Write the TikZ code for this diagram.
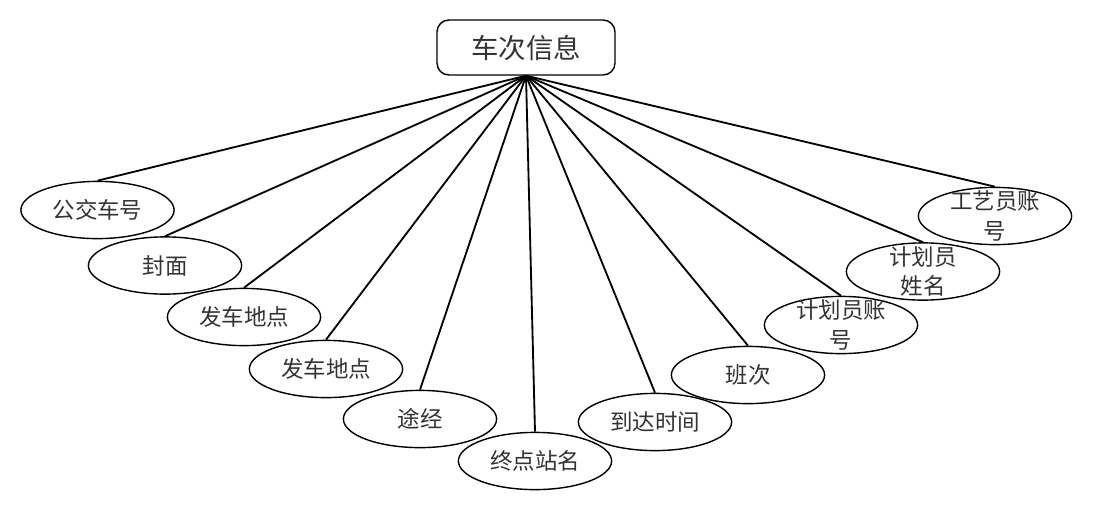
\documentclass[tikz,border=0pt]{standalone}
\usepackage{fontspec}
\setmainfont{Noto Sans CJK SC}
\usetikzlibrary{shapes.geometric}

\begin{document}
\begin{tikzpicture}[
    x=0.025cm, y=-0.025cm,
    font=\fontsize{16}{21}\selectfont,
    % Node styles
    entity/.style={rectangle, draw, rounded corners=0.3cm, line width=1pt, minimum width=4.45cm, minimum height=1.375cm, font=\fontsize{19.5}{24}\selectfont, text=black!80},
    attr/.style={ellipse, draw, line width=1pt, minimum width=3.83cm, minimum height=1.43cm, inner sep=0pt},
    every label/.style={text=black!80},
    link/.style={line width=1.3pt},
]
\useasboundingbox (0,0) rectangle (1094,509);

% Entity
\node[entity] (info) at (526,47.5) {车次信息};

% Attributes, left side
\node[attr, label={center:公交车号}] (busno) at (97.5,210) {};
\node[attr, label={center:封面}] (cover) at (165,265.5) {};
\node[attr, label={center:发车地点}] (startA) at (244,317) {};
\node[attr, label={center:发车地点}] (startB) at (326,369) {};
\node[attr, label={center:途经}] (route) at (420,419) {};
\node[attr, label={center:终点站名}] (termst) at (535,461) {};

% Attributes, right side
\node[attr, label={center:到达时间}] (arrive) at (655,422) {};
\node[attr, label={center:班次}] (shiftno) at (748,375) {};
\node[attr, label={[align=center]center:计划员账\\号}] (planacc) at (841,325) {};
\node[attr, label={[align=center]center:计划员\\姓名}] (planname) at (923,271.5) {};
\node[attr, label={[align=center]center:工艺员账\\号}] (craftacc) at (995,216) {};

% Connectors
\foreach \a in {busno, cover, startA, startB, route, termst, arrive, shiftno, planacc, planname, craftacc} {
    \draw[link] (info.south) -- (\a.north);
}

\end{tikzpicture}
\end{document}
